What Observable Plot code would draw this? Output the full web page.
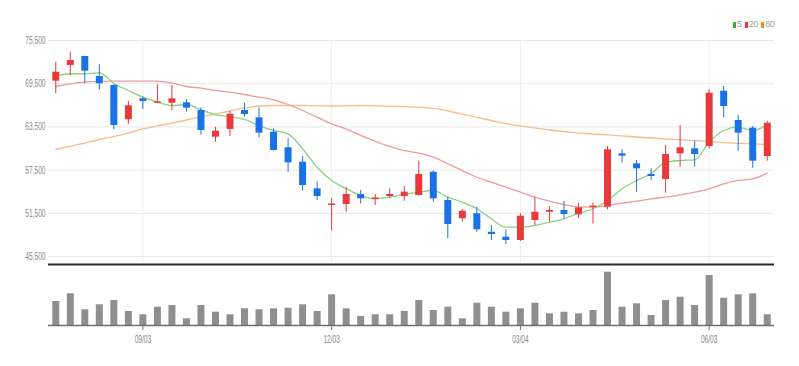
<!DOCTYPE html>
<html>
<head>
<meta charset="utf-8">
<script src="https://cdn.jsdelivr.net/npm/d3@7"></script>
<script src="https://cdn.jsdelivr.net/npm/@observablehq/plot@0.6"></script>
<style>
  html, body { margin: 0; padding: 0; background: #fff; }
  #wrap { position: relative; width: 799px; height: 366px; overflow: hidden; }
  #pricePanel { position: absolute; left: 0; top: 0; }
  #volPanel { position: absolute; left: 0; top: 266px; }
  #legend { position: absolute; left: 730px; top: 19px; font: 9px "Liberation Sans",sans-serif; color: #a0a0a0; white-space: nowrap; letter-spacing: -0.3px; }
  #legend span.sw { display: inline-block; width: 3px; height: 6px; margin: 0 1px 0 3px; vertical-align: -0.5px; }
</style>
</head>
<body>
<div id="wrap">
  <div id="pricePanel"></div>
  <div id="volPanel"></div>
  <div id="legend"></div>
</div>
<script>
// ---- data (weekly candles) ----
const opens  = [69850,72030,73280,70500,69250,64490,67400,66790,66790,66850,65780,62070,63150,65780,64760,62760,60600,58600,54900,52580,52720,54110,53420,53830,53830,53970,57210,53280,50740,51430,48870,48180,47720,50500,51650,51890,51290,52300,52350,59760,58370,56890,56190,59760,60460,60780,68460,64390,63320,59390];
const highs  = [72490,73880,73320,72130,69350,67030,67630,69350,69250,67310,66150,63460,65650,66790,66150,63240,61850,59390,55820,53560,55130,54670,54110,54900,55220,58740,57350,53740,52030,52350,49810,49210,51430,53740,52440,53140,52900,52900,60780,60360,58830,57680,60920,63690,61510,68650,69110,65080,63560,64290];
const lows   = [68100,70640,69490,68650,63100,63830,65920,66710,65780,65540,62360,61380,62170,64850,61990,60130,57210,54570,53280,49040,51650,52820,52580,53510,53180,53880,53040,47960,50260,48870,47720,47170,47580,49810,50260,50740,50740,50000,51990,58460,54430,56060,54290,57900,57900,60460,64760,60130,57760,58740];
const closes = [71100,72720,71240,69490,63690,66430,67030,66990,67400,66100,63000,62900,65250,65220,62630,60220,58510,55360,53830,52790,54110,53510,53630,54110,54430,56890,53510,49940,51790,49210,48550,47720,51100,51650,51890,51330,52260,52500,60320,59430,57680,56610,59670,60600,59670,68180,66330,62630,58740,64010];
const volumes = [24,31.7,15.7,20.7,25,14,10.7,18.3,20,6.7,20,13.3,10.7,16.7,15.7,16.7,17.3,20.7,14,30.7,16.7,9,10.7,10.7,14,25,15,18.3,6.7,22.3,18.3,13.3,16.7,22.3,11.7,13.3,11.7,15,53.3,18.3,21.7,10,25,28.3,20,50,27.3,30.7,31.7,10.7];
const ma5  = [70540,70880,70880,71010,69570,68560,67630,66930,66470,66610,65880,65180,64940,64530,63690,63000,62540,60460,57900,56060,54900,53970,53510,53740,54150,54430,54670,53740,53040,52130,50740,49570,49570,49810,50260,50740,51510,52130,53280,54900,56060,56990,58600,58830,58930,61380,63000,63460,63000,63830];
const ma20 = [69110,69490,69710,69810,69850,69850,69850,69850,69570,69110,68880,68560,68320,68000,67630,67260,66610,65780,64850,63930,63240,62310,61510,60780,60220,59850,59290,58380,57440,56510,55820,55130,54430,53740,53180,52720,52350,52350,52580,52900,53180,53510,53740,54070,54430,54900,55600,56060,56290,57070];
const ma60 = [60360,60780,61260,61750,62170,62650,63210,63630,64040,64460,64880,65290,65710,66130,66400,66470,66470,66470,66430,66400,66430,66470,66430,66380,66330,66240,66060,65710,65290,64810,64390,63970,63630,63350,63070,62860,62650,62510,62380,62240,62100,61960,61820,61710,61610,61470,61330,61220,61130,61060];
const yTicks = [45500,51500,57500,63500,69500,75500];
const xTickIdx = [6,19,32,45];
const xTickLabels = ["09/03","12/03","03/04","06/03"];
const legendLabels = ["5","20","60"];

// ---- styling ----
const RED = "#e8393c", BLUE = "#1a72e6";
const FONT = '"Liberation Sans",Arial,sans-serif';
const maColors = ["#86d47e", "#f29a9a", "#f7bd8c"];
const legendColors = ["#2fb52f", "#e8393c", "#f28c2e"];

const candles = opens.map((o, i) => ({
  i, open: o, high: highs[i], low: lows[i], close: closes[i], vol: volumes[i],
  ma5: ma5[i], ma20: ma20[i], ma60: ma60[i],
  color: closes[i] >= o ? RED : BLUE
}));
const yMin = 44390, yMax = 75500;

// horizontally condense axis labels (the reference uses a narrow face); run after attaching
function condense(svg, factor) {
  svg.querySelectorAll("text").forEach(t => {
    const L = t.getComputedTextLength();
    if (L > 0) {
      t.setAttribute("textLength", (L * factor).toFixed(2));
      t.setAttribute("lengthAdjust", "spacingAndGlyphs");
    }
  });
}

const priceChart = Plot.plot({
  width: 799, height: 266,
  marginTop: 40, marginBottom: 2, marginLeft: 48, marginRight: 25,
  x: {domain: [-0.5, 49.5], axis: null, label: null},
  y: {domain: [yMin, yMax], label: null},
  style: {fontFamily: FONT, background: "transparent", overflow: "visible"},
  marks: [
    Plot.ruleY(yTicks, {stroke: "#e8e8e8", strokeWidth: 1}),
    Plot.ruleX(xTickIdx, {stroke: "#ededed", strokeWidth: 1}),
    Plot.axisY(yTicks, {tickSize: 0, tickPadding: 3, fontSize: 11, fill: "#8a8a8a", tickFormat: d3.format(","), label: null}),
    Plot.line(candles, {x: "i", y: "ma60", stroke: maColors[2], strokeWidth: 1.3, curve: "monotone-x"}),
    Plot.line(candles, {x: "i", y: "ma20", stroke: maColors[1], strokeWidth: 1.3, curve: "monotone-x"}),
    Plot.line(candles, {x: "i", y: "ma5", stroke: maColors[0], strokeWidth: 1.3, curve: "monotone-x"}),
    Plot.ruleX(candles, {x: "i", y1: "low", y2: "high", stroke: "color", strokeWidth: 1}),
    Plot.ruleX(candles, {x: "i", y1: "open", y2: "close", stroke: "color", strokeWidth: 7}),
    Plot.ruleY([yMin], {stroke: "#2a2a2a", strokeWidth: 2})
  ]
});
document.getElementById("pricePanel").appendChild(priceChart);
condense(priceChart, 0.6);

const volChart = Plot.plot({
  width: 799, height: 100,
  marginTop: 4, marginBottom: 41, marginLeft: 48, marginRight: 25,
  x: {domain: [-0.5, 49.5], label: null},
  y: {domain: [0, 55], axis: null, label: null},
  style: {fontFamily: FONT, background: "transparent", overflow: "visible"},
  marks: [
    Plot.ruleX(candles, {x: "i", y: "vol", stroke: "#8f8f8f", strokeWidth: 7}),
    Plot.ruleY([0], {stroke: "#707070", strokeWidth: 1.5}),
    Plot.axisX(xTickIdx, {tickSize: 5, tickPadding: 5, fontSize: 11, fill: "#8a8a8a", stroke: "#707070",
      tickFormat: d => xTickLabels[xTickIdx.indexOf(d)], label: null})
  ]
});
document.getElementById("volPanel").appendChild(volChart);
condense(volChart, 0.6);

const legendEl = document.getElementById("legend");
legendLabels.forEach((t, k) => {
  const sw = document.createElement("span");
  sw.className = "sw";
  sw.style.background = legendColors[k];
  legendEl.appendChild(sw);
  legendEl.appendChild(document.createTextNode(t));
});
</script>
</body>
</html>
